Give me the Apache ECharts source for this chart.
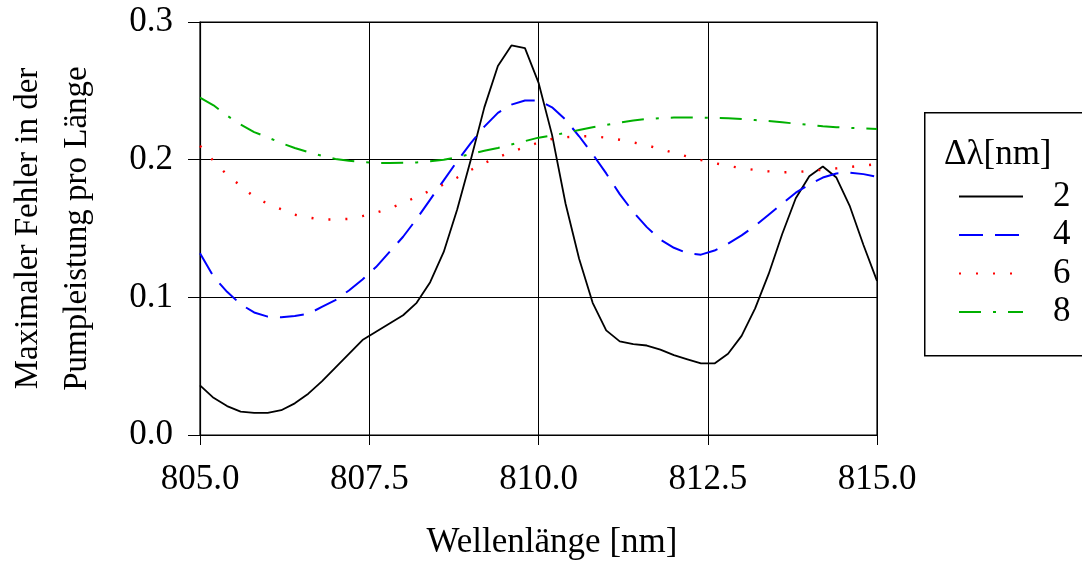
<!DOCTYPE html>
<html><head><meta charset="utf-8">
<script src="https://cdn.jsdelivr.net/npm/echarts@6/dist/echarts.min.js"></script>
<style>html,body{margin:0;padding:0;background:#fff}#c{width:1082px;height:562px}</style>
</head><body><div id="c"></div>
<script>
const wavelengths = [805.0,805.2,805.4,805.6,805.8,806.0,806.2,806.4,806.6,806.8,807.0,807.2,807.4,807.6,807.8,808.0,808.2,808.4,808.6,808.8,809.0,809.2,809.4,809.6,809.8,810.0,810.2,810.4,810.6,810.8,811.0,811.2,811.4,811.6,811.8,812.0,812.2,812.4,812.6,812.8,813.0,813.2,813.4,813.6,813.8,814.0,814.2,814.4,814.6,814.8,815.0];
const seriesNames = ['2','4','6','8'];
const err2 = [0.036,0.027,0.021,0.017,0.016,0.016,0.018,0.023,0.030,0.039,0.049,0.059,0.069,0.075,0.081,0.087,0.096,0.111,0.133,0.164,0.200,0.238,0.268,0.283,0.281,0.256,0.218,0.168,0.128,0.096,0.076,0.068,0.066,0.065,0.062,0.058,0.055,0.052,0.052,0.059,0.072,0.092,0.117,0.146,0.172,0.188,0.195,0.187,0.166,0.138,0.112];
const err4 = [0.132,0.115,0.104,0.095,0.089,0.086,0.0855,0.0865,0.088,0.093,0.098,0.105,0.113,0.122,0.133,0.144,0.157,0.171,0.185,0.199,0.212,0.224,0.234,0.240,0.243,0.243,0.238,0.229,0.217,0.204,0.190,0.175,0.162,0.151,0.142,0.136,0.132,0.131,0.134,0.139,0.145,0.152,0.160,0.168,0.176,0.182,0.187,0.190,0.1905,0.1895,0.1876];
const err6 = [0.210,0.199,0.189,0.181,0.173,0.168,0.164,0.160,0.158,0.1565,0.1565,0.157,0.159,0.1615,0.1646,0.1685,0.173,0.1775,0.182,0.187,0.1925,0.1975,0.2017,0.2057,0.209,0.2125,0.215,0.2163,0.217,0.217,0.216,0.2145,0.2125,0.2105,0.2077,0.205,0.2022,0.1997,0.1975,0.1955,0.1938,0.1925,0.1915,0.1908,0.191,0.1918,0.1927,0.1937,0.1947,0.1957,0.1968];
const err8 = [0.245,0.2395,0.232,0.2255,0.220,0.2162,0.212,0.2085,0.2055,0.2028,0.2005,0.1992,0.1982,0.1976,0.1975,0.1978,0.198,0.1988,0.1999,0.2017,0.2042,0.2065,0.2085,0.211,0.2135,0.216,0.2175,0.2195,0.2215,0.2235,0.2252,0.227,0.2285,0.2295,0.2302,0.2306,0.2307,0.2306,0.2303,0.2300,0.2295,0.2288,0.228,0.2271,0.2262,0.2252,0.2243,0.2236,0.2231,0.2227,0.2222];
const xTitle = 'Wellenlänge [nm]';
const yTitle = 'Maximaler Fehler in der\nPumpleistung pro Länge';
const legendTitle = 'Δλ[nm]';

const FONT = '"Liberation Serif","DejaVu Serif",serif';
const pair = arr => wavelengths.map((x,i)=>[x, arr[i]]);
const styles = [
  {color:'#000000', width:1.8, type:'solid'},
  {color:'#0000ff', width:2, type:[24,12]},
  {color:'#ff0000', width:2.4, type:[2,15]},
  {color:'#00b000', width:2, type:[22,12,3,12]}
];
const datasets = [err2, err4, err6, err8];

const chart = echarts.init(document.getElementById('c'), null, {renderer:'canvas'});
chart.setOption({
  animation:false,
  backgroundColor:'#fff',
  grid:{left:200, right:205, top:22, bottom:127, show:true, borderColor:'#000', borderWidth:1.2,
    containLabel:false, outerBoundsMode:'none'},
  xAxis:{type:'value', min:805, max:815, interval:2.5,
    name:xTitle, nameLocation:'middle', nameGap:90,
    nameTextStyle:{fontFamily:FONT, fontSize:35, color:'#000', padding:[0,0,0,27]},
    axisLine:{lineStyle:{color:'#000', width:1.2}},
    axisTick:{show:true, length:10, lineStyle:{color:'#000'}},
    axisLabel:{fontFamily:FONT, fontSize:35, color:'#000', margin:27, formatter:v=>v.toFixed(1)},
    splitLine:{show:true, lineStyle:{color:'#000', width:1}}},
  yAxis:{type:'value', min:0, max:0.3, interval:0.1,
    name:yTitle, nameLocation:'middle', nameGap:98, nameRotate:90,
    nameTextStyle:{fontFamily:FONT, fontSize:33, color:'#000', lineHeight:49, align:'center'},
    axisLine:{show:true, lineStyle:{color:'#000', width:1.2}},
    axisTick:{show:true, length:12, lineStyle:{color:'#000'}},
    axisLabel:{fontFamily:FONT, fontSize:35, color:'#000', margin:27, formatter:v=>v.toFixed(1)},
    splitLine:{show:true, lineStyle:{color:'#000', width:1}}},
  legend:{orient:'vertical', left:953, top:174, itemWidth:64, itemHeight:14, itemGap:3.5,
    data:seriesNames,
    itemStyle:{color:'rgba(0,0,0,0)', borderWidth:0, opacity:0},
    textStyle:{fontFamily:FONT, fontSize:35, color:'#000', padding:[0,0,0,25]}},
  graphic:[
    {type:'rect', left:924, top:112, z:-1, shape:{width:200, height:243}, style:{fill:'#fff', stroke:'#000', lineWidth:1.5}},
    {type:'text', left:944, top:137, style:{text:legendTitle, font:'35px '+FONT, fill:'#000'}}
  ],
  series: datasets.map((d,i)=>({
    name:seriesNames[i], type:'line', data:pair(d), showSymbol:false, symbol:'none',
    lineStyle:{color:styles[i].color, width:styles[i].width, type:styles[i].type},
    itemStyle:{color:styles[i].color}
  }))
});
</script></body></html>
